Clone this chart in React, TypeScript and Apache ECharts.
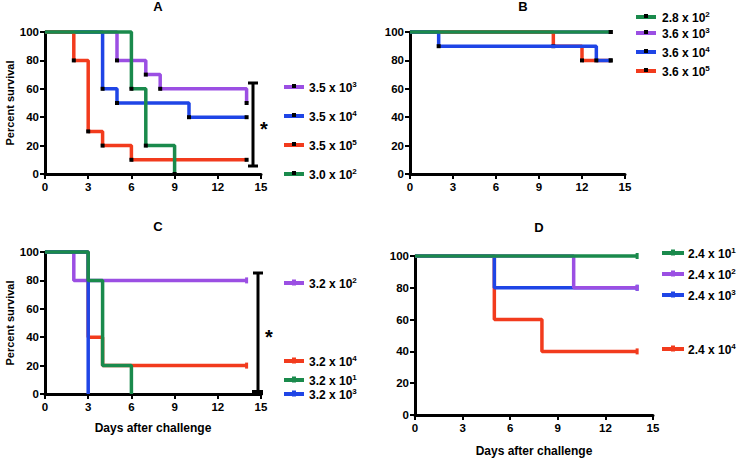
import React, { useEffect, useRef } from "react";
import * as echarts from "echarts";

type Pt = [number, number];

// ---- Panel A data (day, percent survival)
const A_names = ["3.5 x 10^3", "3.5 x 10^4", "3.5 x 10^5", "3.0 x 10^2"];
const A_3_5e3: Pt[] = [[0, 100], [5, 80], [7, 70], [8, 60], [14, 50]];
const A_3_5e4: Pt[] = [[0, 100], [4, 60], [5, 50], [10, 40], [14, 40]];
const A_3_5e5: Pt[] = [[0, 100], [2, 80], [3, 30], [4, 20], [6, 10], [14, 10]];
const A_3_0e2: Pt[] = [[0, 100], [6, 60], [7, 20], [9, 0]];

// ---- Panel B data
const B_names = ["2.8 x 10^2", "3.6 x 10^3", "3.6 x 10^4", "3.6 x 10^5"];
const B_2_8e2: Pt[] = [[0, 100], [14, 100]];
const B_3_6e3: Pt[] = [[0, 100], [14, 100]];
const B_3_6e4: Pt[] = [[0, 100], [2, 90], [13, 80], [14, 80]];
const B_3_6e5: Pt[] = [[0, 100], [10, 90], [12, 80], [14, 80]];

// ---- Panel C data
const C_names = ["3.2 x 10^2", "3.2 x 10^4", "3.2 x 10^1", "3.2 x 10^3"];
const C_3_2e2: Pt[] = [[0, 100], [2, 80], [14, 80]];
const C_3_2e4: Pt[] = [[0, 100], [3, 40], [4, 20], [14, 20]];
const C_3_2e1: Pt[] = [[0, 100], [3, 80], [4, 20], [6, 0]];
const C_3_2e3: Pt[] = [[0, 100], [3, 0]];

// ---- Panel D data
const D_names = ["2.4 x 10^1", "2.4 x 10^2", "2.4 x 10^3", "2.4 x 10^4"];
const D_2_4e1: Pt[] = [[0, 100], [14, 100]];
const D_2_4e2: Pt[] = [[0, 100], [10, 80], [14, 80]];
const D_2_4e3: Pt[] = [[0, 100], [5, 80], [14, 80]];
const D_2_4e4: Pt[] = [[0, 100], [5, 60], [8, 40], [14, 40]];

const xTicks = [0, 3, 6, 9, 12, 15];
const yTicks = [0, 20, 40, 60, 80, 100];

const PURPLE = "#9b4fe3";
const BLUE = "#1f45e6";
const RED = "#f23b1d";
const GREEN = "#1a8a4c";
const FONT = '"Liberation Sans", Arial, sans-serif';

const grids = [
  { left: 45, top: 32, width: 216, height: 142 },
  { left: 410, top: 32, width: 215, height: 142 },
  { left: 45, top: 252, width: 216, height: 142 },
  { left: 415, top: 256, width: 238, height: 159 },
];

function km(g: number, name: string, data: Pt[], color: string, mode: "black" | "end", z: number) {
  return {
    type: "line",
    name,
    xAxisIndex: g,
    yAxisIndex: g,
    step: "end",
    clip: false,
    silent: true,
    z,
    lineStyle: { color, width: 3.5 },
    itemStyle: { color: mode === "black" ? "#000" : color },
    symbol: "rect",
    symbolSize: mode === "black" ? 4 : [3, 6],
    data: data.map((p, i) => {
      const show = mode === "black" ? i > 0 : p[0] === 14;
      return show ? { value: p } : { value: p, symbol: "none" };
    }),
  };
}

function legend(names: string[], colors: string[], ys: number[], x0: number, x1: number, tx: number, mode: "black" | "end") {
  const els: any[] = [];
  names.forEach((n, i) => {
    const [base, exp] = n.split("^");
    const y = ys[i];
    els.push({
      type: "line",
      shape: { x1: x0, y1: y, x2: x1, y2: y },
      style: { stroke: colors[i], lineWidth: 4 },
    });
    const mx = (x0 + x1) / 2;
    els.push({
      type: "rect",
      shape: mode === "black" ? { x: mx - 2, y: y - 3, width: 4, height: 4 } : { x: mx - 2, y: y - 3.5, width: 4, height: 6 },
      style: { fill: mode === "black" ? "#000" : colors[i] },
    });
    els.push({
      type: "text",
      x: tx,
      y: y,
      style: {
        text: `{b|${base}}{s|${exp}}`,
        verticalAlign: "middle",
        rich: {
          b: { fontFamily: FONT, fontWeight: "bold", fontSize: 12, fill: "#000", lineHeight: 14, verticalAlign: "bottom" },
          s: { fontFamily: FONT, fontWeight: "bold", fontSize: 8, fill: "#000", lineHeight: 14, verticalAlign: "top" },
        },
      },
    });
  });
  return els;
}

function bracket(x: number, y0: number, y1: number, sx: number, sy: number, bottomBlock: boolean) {
  const els: any[] = [
    { type: "line", shape: { x1: x, y1: y0, x2: x, y2: y1 }, style: { stroke: "#000", lineWidth: 3 } },
    { type: "line", shape: { x1: x - 5, y1: y0, x2: x + 5, y2: y0 }, style: { stroke: "#000", lineWidth: 3 } },
  ];
  if (bottomBlock) {
    els.push({ type: "rect", shape: { x: x - 6, y: y1 - 3, width: 11, height: 5 }, style: { fill: "#000" } });
  } else {
    els.push({ type: "line", shape: { x1: x - 5, y1: y1, x2: x + 5, y2: y1 }, style: { stroke: "#000", lineWidth: 3 } });
  }
  els.push({
    type: "text",
    x: sx,
    y: sy,
    style: { text: "*", fontFamily: FONT, fontWeight: "bold", fontSize: 20, fill: "#000", align: "center", verticalAlign: "middle" },
  });
  return els;
}

export default function App() {
  const ref = useRef<HTMLDivElement>(null);
  useEffect(() => {
    if (!ref.current) return;
    const chart = echarts.init(ref.current, null, { renderer: "svg" });
    const labelStyle = { color: "#000", fontWeight: "bold", fontSize: 11.5, fontFamily: FONT };
    const xAxes = grids.map((_, i) => ({
      type: "value",
      gridIndex: i,
      min: xTicks[0],
      max: xTicks[xTicks.length - 1],
      interval: 3,
      axisLine: { show: true, lineStyle: { color: "#000", width: 3 } },
      axisTick: { show: true, length: 5, lineStyle: { color: "#000", width: 2 } },
      axisLabel: { ...labelStyle, margin: 7 },
      splitLine: { show: false },
      name: i >= 2 ? "Days after challenge" : "",
      nameLocation: "middle",
      nameGap: i === 2 ? 28 : 30,
      nameTextStyle: { color: "#000", fontWeight: "bold", fontSize: 12, fontFamily: FONT },
    }));
    const yAxes = grids.map((_, i) => ({
      type: "value",
      gridIndex: i,
      min: yTicks[0],
      max: yTicks[yTicks.length - 1],
      interval: 20,
      axisLine: { show: true, lineStyle: { color: "#000", width: 3 } },
      axisTick: { show: true, length: 5, lineStyle: { color: "#000", width: 2 } },
      axisLabel: { ...labelStyle, margin: 6 },
      splitLine: { show: false },
      name: i === 0 || i === 2 ? "Percent survival" : "",
      nameLocation: "middle",
      nameGap: 30,
      nameTextStyle: { color: "#000", fontWeight: "bold", fontSize: 11, fontFamily: FONT },
    }));
    const titleStyle = { color: "#000", fontWeight: "bold", fontSize: 13, fontFamily: FONT };
    const option: any = {
      animation: false,
      backgroundColor: "#fff",
      title: [
        { text: "A", left: 153, top: -5, textAlign: "center", textStyle: titleStyle },
        { text: "B", left: 518, top: -5, textAlign: "center", textStyle: titleStyle },
        { text: "C", left: 153, top: 215, textAlign: "center", textStyle: titleStyle },
        { text: "D", left: 534, top: 216, textAlign: "center", textStyle: titleStyle },
      ],
      grid: grids,
      xAxis: xAxes,
      yAxis: yAxes,
      series: [
        km(0, A_names[0], A_3_5e3, PURPLE, "black", 2),
        km(0, A_names[1], A_3_5e4, BLUE, "black", 3),
        km(0, A_names[2], A_3_5e5, RED, "black", 4),
        km(0, A_names[3], A_3_0e2, GREEN, "black", 5),
        km(1, B_names[1], B_3_6e3, PURPLE, "black", 2),
        km(1, B_names[3], B_3_6e5, RED, "black", 3),
        km(1, B_names[2], B_3_6e4, BLUE, "black", 4),
        km(1, B_names[0], B_2_8e2, GREEN, "black", 5),
        km(2, C_names[0], C_3_2e2, PURPLE, "end", 2),
        km(2, C_names[1], C_3_2e4, RED, "end", 3),
        km(2, C_names[3], C_3_2e3, BLUE, "end", 4),
        km(2, C_names[2], C_3_2e1, GREEN, "end", 5),
        km(3, D_names[3], D_2_4e4, RED, "end", 2),
        km(3, D_names[2], D_2_4e3, BLUE, "end", 3),
        km(3, D_names[1], D_2_4e2, PURPLE, "end", 4),
        km(3, D_names[0], D_2_4e1, GREEN, "end", 5),
      ],
      graphic: [
        ...legend(A_names, [PURPLE, BLUE, RED, GREEN], [87, 116, 145, 174], 284, 304, 309, "black"),
        ...legend(B_names, [GREEN, PURPLE, BLUE, RED], [17, 33, 52, 71], 636, 656, 662, "black"),
        ...legend(C_names, [PURPLE, RED, GREEN, BLUE], [283, 361, 380, 394], 284, 304, 309, "end"),
        ...legend(D_names, [GREEN, PURPLE, BLUE, RED], [253, 274, 295, 349], 662, 684, 688, "end"),
        ...bracket(253, 83, 166, 264, 129, false),
        ...bracket(258, 273, 393, 269, 337, true),
      ],
    };
    chart.setOption(option);
    return () => chart.dispose();
  }, []);
  return <div ref={ref} style={{ position: "fixed", left: 0, top: 0, width: 744, height: 460 }} />;
}
